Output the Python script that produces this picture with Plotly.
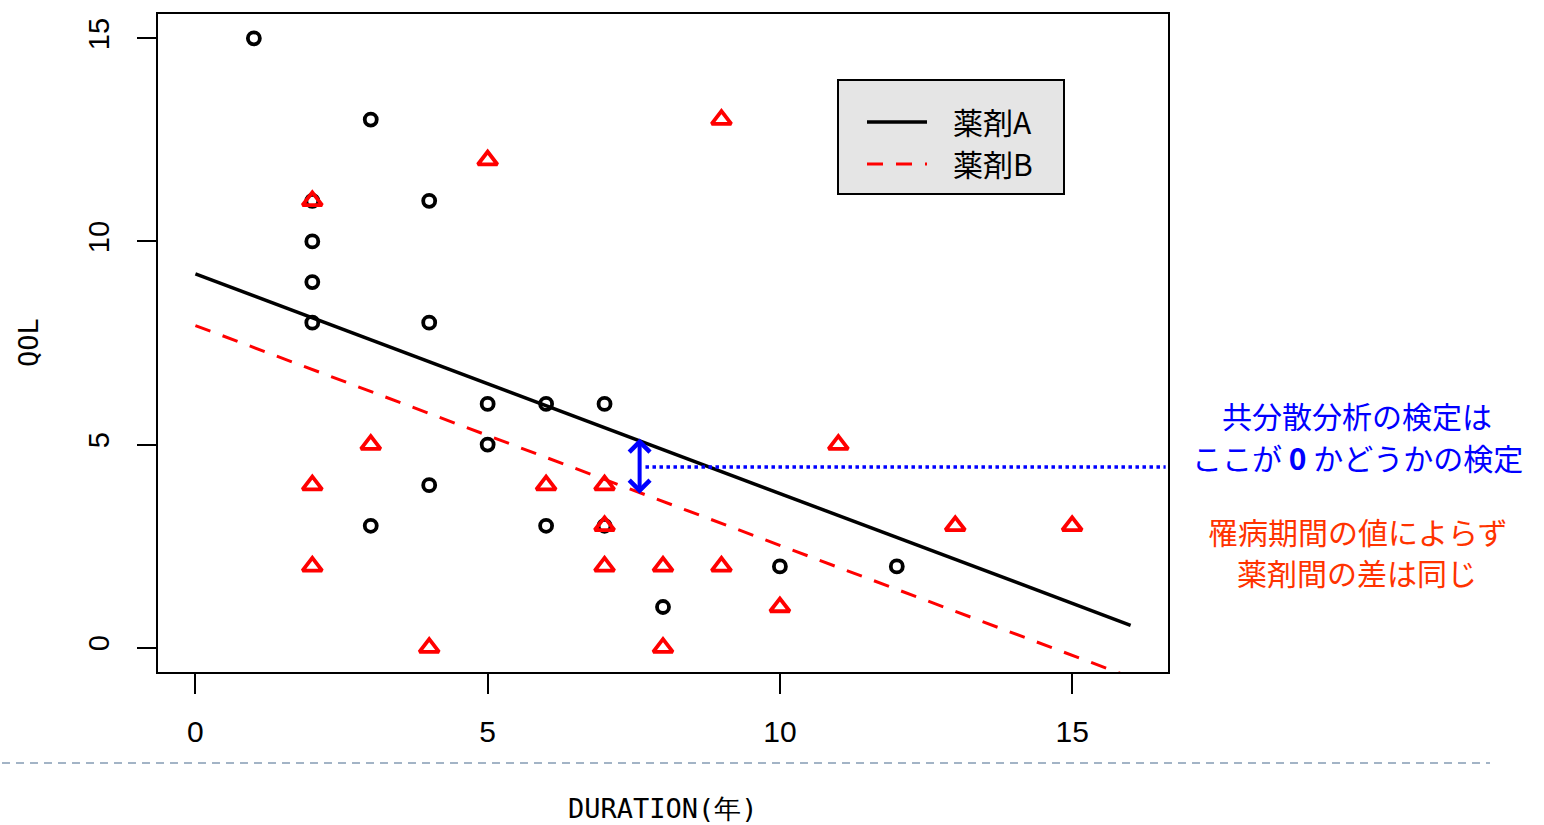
import plotly.graph_objects as go

# ---- data ----
a_x = [1, 3, 2, 4, 2, 2, 2, 4, 5, 6, 7, 5, 4, 3, 6, 7, 10, 12, 8]
a_y = [15, 13, 11, 11, 10, 9, 8, 8, 6, 6, 6, 5, 4, 3, 3, 3, 2, 2, 1]
b_x = [9, 5, 2, 3, 11, 2, 6, 7, 7, 13, 15, 2, 7, 8, 9, 10, 4, 8]
b_y = [13, 12, 11, 5, 5, 4, 4, 4, 3, 3, 3, 2, 2, 2, 2, 1, 0, 0]
line_x = [0, 16]
line_a = [9.20, 0.55]
line_b = [7.93, -0.73]
arrow_x = 7.6
arrow_top = 5.15
arrow_bottom = 3.75
dotted_y = 4.45
dotted_x = [7.7, 16.6]
x_ticks = [0, 5, 10, 15]
y_ticks = [0, 5, 10, 15]
note_blue = ["共分散分析の検定は", "ここが <b>0</b> かどうかの検定"]
note_red = ["罹病期間の値によらず", "薬剤間の差は同じ"]

CJK = "Noto Sans CJK JP"
BLUE = "#0000ff"
RED = "#ff0000"
ORANGE = "#ff3300"
PAD = "\u2002\u2009"

fig = go.Figure()

fig.add_trace(go.Scatter(x=line_x, y=line_a, mode="lines", name=PAD + "薬剤A",
                         line=dict(color="black", width=3.5)))
fig.add_trace(go.Scatter(x=line_x, y=line_b, mode="lines", name=PAD + "薬剤B",
                         line=dict(color=RED, width=3, dash="16px,13px")))
fig.add_trace(go.Scatter(x=a_x, y=a_y, mode="markers", showlegend=False,
                         marker=dict(symbol="circle-open", size=12, color="black",
                                     line=dict(width=3.8, color="black"))))
fig.add_trace(go.Scatter(x=b_x, y=b_y, mode="markers", showlegend=False,
                         marker=dict(symbol="triangle-up-open", size=17, color=RED,
                                     line=dict(width=3.8, color=RED))))
# dotted horizontal
fig.add_trace(go.Scatter(x=dotted_x, y=[dotted_y, dotted_y], mode="lines", showlegend=False,
                         line=dict(color=BLUE, width=3.5, dash="dot"), cliponaxis=False))

# double arrow
fig.add_annotation(x=arrow_x, y=arrow_top, ax=arrow_x, ay=arrow_bottom,
                   xref="x", yref="y", axref="x", ayref="y", text="",
                   showarrow=True, arrowhead=4, startarrowhead=4, arrowside="end+start",
                   arrowwidth=4, arrowsize=1.0, startarrowsize=1.0, arrowcolor=BLUE)

# legend box background
fig.add_shape(type="rect", xref="paper", yref="paper",
              x0=(838 - 158) / 1010, x1=(1064 - 158) / 1010,
              y0=(672 - 194) / 658, y1=(672 - 80) / 658,
              fillcolor="#e5e5e5", line=dict(color="black", width=2), layer="below")

# right side texts (one annotation per line)
for txt, ypix in zip(note_blue, [415, 457]):
    fig.add_annotation(xref="paper", yref="paper", x=(1357 - 158) / 1010, y=(672 - ypix) / 658,
                       text=txt, showarrow=False, font=dict(family=CJK, size=30, color=BLUE),
                       xanchor="center", yanchor="middle")
for txt, ypix in zip(note_red, [531, 572]):
    fig.add_annotation(xref="paper", yref="paper", x=(1357 - 158) / 1010, y=(672 - ypix) / 658,
                       text=txt, showarrow=False, font=dict(family=CJK, size=30, color=ORANGE),
                       xanchor="center", yanchor="middle")

# separator dashed line
fig.add_shape(type="line", xref="paper", yref="paper",
              x0=(2 - 158) / 1010, x1=(1490 - 158) / 1010,
              y0=(672 - 763) / 658, y1=(672 - 763) / 658,
              line=dict(color="#a3b4c6", width=2, dash="8px,6px"))

# axis titles
fig.add_annotation(xref="paper", yref="paper", x=(663 - 158) / 1010, y=(672 - 808) / 658,
                   text="DURATION(年)", showarrow=False,
                   font=dict(family="DejaVu Sans Mono", size=27, color="black"),
                   xanchor="center", yanchor="middle")
fig.add_annotation(xref="paper", yref="paper", x=(28 - 158) / 1010, y=(672 - 343) / 658,
                   text="QOL", showarrow=False, textangle=-90,
                   font=dict(family="DejaVu Sans Mono", size=27, color="black"),
                   xanchor="center", yanchor="middle")

fig.update_layout(
    width=1544, height=825,
    margin=dict(l=158, r=376, t=14, b=153),
    paper_bgcolor="white", plot_bgcolor="white",
    showlegend=True,
    legend=dict(x=(862 - 158) / 1010, y=(672 - 96) / 658, xanchor="left", yanchor="top",
                bgcolor="rgba(0,0,0,0)", borderwidth=0,
                font=dict(family=CJK, size=30, color="black"),
                itemwidth=60, tracegroupgap=0),
    xaxis=dict(range=[-0.64, 16.64], tickvals=x_ticks, ticktext=[str(v) for v in x_ticks],
               showgrid=False, zeroline=False, showline=True, linecolor="black", linewidth=2,
               mirror=True, ticks="outside", ticklen=20, tickwidth=1.5, tickcolor="black",
               ticklabelstandoff=12,
               tickfont=dict(family="Liberation Sans Narrow, Liberation Sans", size=30, color="black")),
    yaxis=dict(range=[-0.6, 15.6], tickvals=y_ticks, ticktext=[str(v) for v in y_ticks],
               showgrid=False, zeroline=False, showline=True, linecolor="black", linewidth=2,
               mirror=True, ticks="outside", ticklen=19, tickwidth=1.5, tickcolor="black",
               tickangle=-90, ticklabelstandoff=16,
               tickfont=dict(family="Liberation Sans", size=29, color="black")),
)

fig.write_html("out.html")
